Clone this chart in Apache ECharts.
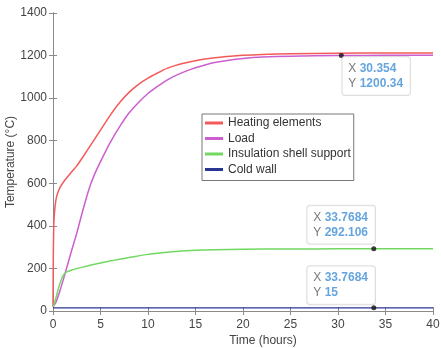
<!DOCTYPE html>
<html>
<head>
<meta charset="utf-8">
<script src="https://cdn.jsdelivr.net/npm/echarts@6/dist/echarts.min.js"></script>
<style>html,body{margin:0;padding:0;background:#fff}#c{width:441px;height:348px}</style>
</head>
<body>
<div id="c"></div>
<script>
var xTicks = [0, 5, 10, 15, 20, 25, 30, 35, 40];
var yTicks = [0, 200, 400, 600, 800, 1000, 1200, 1400];

var heatTime = [0, 0.03, 0.08, 0.15, 0.3, 0.5, 0.8, 1.2, 1.8, 2.5, 3.2, 4, 5, 6, 7, 8, 9, 10, 11, 12, 13, 14, 15, 16, 17, 18, 20, 22, 25, 30, 35, 40];
var heatTemp = [20, 250, 400, 460, 520, 555, 585, 612, 645, 682, 727, 782, 850, 918, 978, 1027, 1065, 1094, 1118, 1140, 1155, 1166, 1176, 1184, 1190, 1195, 1201, 1205, 1209, 1211, 1212, 1212];

var loadTime = [0, 0.3, 0.7, 1.2, 2, 2.5, 3, 3.5, 4, 4.5, 5, 6, 7, 8, 9, 10, 11, 12, 13, 14, 15, 16, 17, 18, 20, 22, 25, 30, 35, 40];
var loadTemp = [20, 40, 90, 165, 290, 365, 450, 530, 600, 655, 702, 790, 865, 930, 980, 1022, 1055, 1085, 1108, 1127, 1143, 1156, 1167, 1175, 1186, 1193, 1197, 1200, 1201, 1201];

var shellTime = [0, 0.3, 0.6, 0.9, 1.2, 1.5, 2, 3, 4, 5, 6, 7, 8, 9, 10, 11, 12, 13, 14, 15, 17, 20, 25, 30, 35, 40];
var shellTemp = [20, 60, 110, 150, 175, 185, 193, 205, 216, 226, 235, 243, 251, 259, 266, 271, 276, 280, 283, 285, 288, 290, 291.5, 292, 292.1, 292.1];

var coldTime = [0, 10, 20, 30, 40];
var coldTemp = [15, 15, 15, 15, 15];

var markers = [
  {x: 30.354, y: 1200.34, xs: '30.354', ys: '1200.34'},
  {x: 33.7684, y: 292.106, xs: '33.7684', ys: '292.106'},
  {x: 33.7684, y: 15, xs: '33.7684', ys: '15'}
];

function pairs(t, v) { return t.map(function (x, i) { return [x, v[i]]; }); }

var FONT = 'Liberation Sans, Arial, sans-serif';
var axisCol = '#8a8a8a';
var textCol = '#444';

function lineSeries(name, t, v, color, w) {
  return {
    name: name, type: 'line', data: pairs(t, v), showSymbol: false,
    smooth: 0.15,
    lineStyle: {color: color, width: w}, itemStyle: {color: color},
    z: 2
  };
}

var labelPos = [[3.5, 4, 'top'], [-64, -2.5, 'bottom'], [-64, -1, 'bottom']];

var markerSeries = markers.map(function (m, i) {
  var p = labelPos[i];
  return {
    type: 'scatter', symbol: 'circle', symbolSize: 5, z: 10,
    itemStyle: {color: '#111'},
    data: [[m.x, m.y]],
    label: {
      show: true, position: [p[0], p[1]], align: 'left', verticalAlign: p[2],
      formatter: '{k|X} {v|' + m.xs + '}\n{k|Y} {v|' + m.ys + '}',
      backgroundColor: '#fff', borderColor: '#d4d4d4', borderWidth: 1, borderRadius: 3,
      padding: [4, 7, 4, 6],
      rich: {
        k: {color: '#555', fontSize: 12, fontFamily: FONT, lineHeight: 15},
        v: {color: '#3d8fd6', fontSize: 12, fontWeight: 'bold', fontFamily: FONT, lineHeight: 15}
      }
    },
    silent: true
  };
});

var baseX = {
  type: 'value', min: 0, max: 40, interval: 5,
  axisLine: {show: true, lineStyle: {color: axisCol, width: 1}},
  axisTick: {show: true, inside: true, length: 4, lineStyle: {color: axisCol}},
  splitLine: {show: false}
};
var baseY = {
  type: 'value', min: 0, max: 1400, interval: 200,
  axisLine: {show: true, lineStyle: {color: axisCol, width: 1}},
  axisTick: {show: true, inside: true, length: 4, lineStyle: {color: axisCol}},
  splitLine: {show: false}
};

var option = {
  animation: false,
  backgroundColor: '#fff',
  grid: {left: 53, right: 8, top: 13, bottom: 37, containLabel: false, outerBoundsMode: 'none'},
  legend: {
    orient: 'vertical', left: 202, top: 114,
    data: ['Heating elements', 'Load', 'Insulation shell support', 'Cold wall'],
    icon: 'rect', itemWidth: 18, itemHeight: 3, itemGap: 1.5,
    padding: [2, 3, 4, 3],
    backgroundColor: '#fff', borderColor: '#777', borderWidth: 1,
    textStyle: {color: '#333', fontSize: 12, fontFamily: FONT, lineHeight: 14}
  },
  xAxis: [
    Object.assign({}, baseX, {
      position: 'bottom',
      name: 'Time (hours)', nameLocation: 'middle', nameGap: 24, nameMoveOverlap: false,
      nameTextStyle: {color: textCol, fontSize: 12, fontFamily: FONT, padding: [0, 0, 0, 40]},
      axisLabel: {color: textCol, fontSize: 12, fontFamily: FONT, margin: 8,
        formatter: function (v) { return xTicks.indexOf(v) >= 0 ? String(v) : ''; }}
    }),
    Object.assign({}, baseX, {position: 'top', axisLabel: {show: false}})
  ],
  yAxis: [
    Object.assign({}, baseY, {
      position: 'left',
      name: 'Temperature (°C)', nameLocation: 'middle', nameGap: 36, nameMoveOverlap: false,
      nameTextStyle: {color: textCol, fontSize: 12, fontFamily: FONT},
      axisLabel: {color: textCol, fontSize: 12, fontFamily: FONT, margin: 6,
        formatter: function (v) { return yTicks.indexOf(v) >= 0 ? String(v) : ''; }}
    }),
    Object.assign({}, baseY, {position: 'right', axisLabel: {show: false}})
  ],
  series: [
    lineSeries('Heating elements', heatTime, heatTemp, '#f45a5a', 1.5),
    lineSeries('Load', loadTime, loadTemp, '#cc5fd0', 1.5),
    lineSeries('Insulation shell support', shellTime, shellTemp, '#72d862', 1.5),
    lineSeries('Cold wall', coldTime, coldTemp, '#2b3592', 1.2)
  ].concat(markerSeries)
};

var chart = echarts.init(document.getElementById('c'), null, {renderer: 'canvas'});
chart.setOption(option);
</script>
</body>
</html>
